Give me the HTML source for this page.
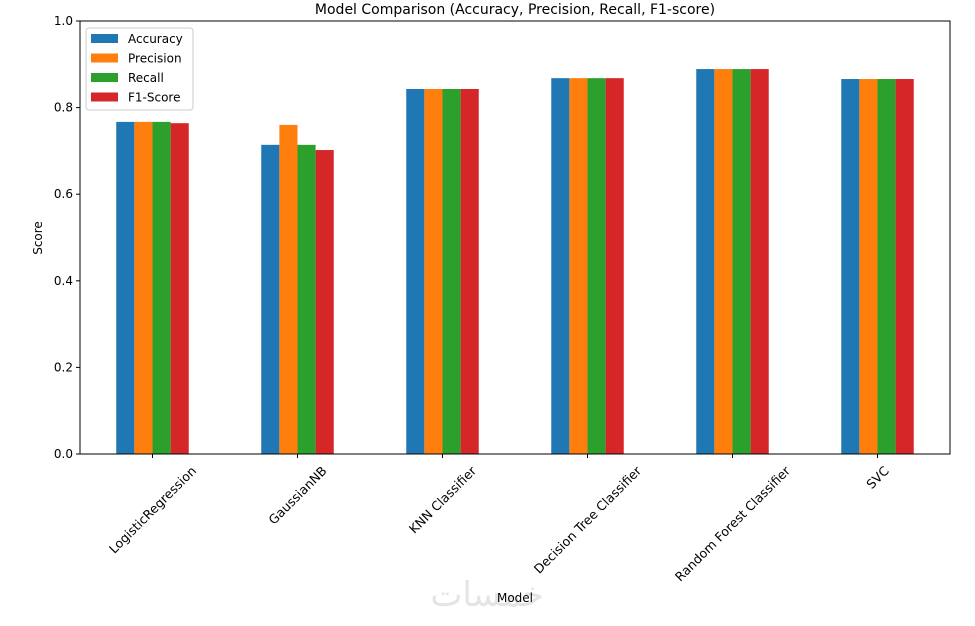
<!DOCTYPE html>
<html><head><meta charset="utf-8"><style>
body{margin:0;background:#fff}
svg{font-family:"DejaVu Sans","Liberation Sans",sans-serif}
</style></head><body>
<svg id="c" width="975" height="621">
<text x="515" y="14" text-anchor="middle" font-size="14">Model Comparison (Accuracy, Precision, Recall, F1-score)</text>
<text x="487" y="606" text-anchor="middle" font-size="34" fill="#e4e4e4" font-family="'DejaVu Sans',sans-serif">خمسات</text>
<text x="515" y="602" text-anchor="middle" font-size="12">Model</text>
<text x="0" y="0" text-anchor="middle" font-size="12" transform="translate(42,238) rotate(-90)">Score</text>
<g id="bars"></g><g id="axes"></g>
</svg>
<script>
const categories=["LogisticRegression","GaussianNB","KNN Classifier","Decision Tree Classifier","Random Forest Classifier","SVC"];
const seriesNames=["Accuracy","Precision","Recall","F1-Score"];
const accuracy=[0.767,0.714,0.843,0.868,0.889,0.866];
const precision=[0.767,0.760,0.843,0.868,0.889,0.866];
const recall=[0.767,0.714,0.843,0.868,0.889,0.866];
const f1=[0.764,0.702,0.843,0.868,0.889,0.866];
const yTicks=[0,0.2,0.4,0.6,0.8,1.0];
const yTickLabels=["0.0","0.2","0.4","0.6","0.8","1.0"];
const colors=["#1f77b4","#ff7f0e","#2ca02c","#d62728"];
const series=[accuracy,precision,recall,f1];
const L=80,R=950,T=21,B=454;
const ns="http://www.w3.org/2000/svg";
const step=(R-L)/categories.length;
const xc=i=>L+step*(i+0.5);
const y=v=>B-(B-T)*v;
const bw=step*0.5/4;
function mk(t,a,p){const e=document.createElementNS(ns,t);for(const k in a)e.setAttribute(k,a[k]);(p||document.getElementById('c')).appendChild(e);return e;}
const bg=document.getElementById('bars'),ax=document.getElementById('axes');
series.forEach((s,j)=>s.forEach((v,i)=>{
 const r=mk('rect',{x:xc(i)-2*bw+j*bw,y:y(v),width:bw,height:B-y(v),fill:colors[j]},bg);
 
 
}));
const fr=mk('rect',{x:L,y:T,width:R-L,height:B-T,fill:'none',stroke:'#000','stroke-width':1},ax);


yTicks.forEach((v,i)=>{
 mk('line',{x1:L-4,x2:L,y1:y(v),y2:y(v),stroke:'#000'},ax);
 const t=mk('text',{x:L-7,y:y(v)+4,'text-anchor':'end','font-size':12},ax);t.textContent=yTickLabels[i];
 
 
});
categories.forEach((c,i)=>{
 mk('line',{x1:xc(i),x2:xc(i),y1:B,y2:B+4,stroke:'#000'},ax);
 const t=mk('text',{x:0,y:0,'text-anchor':'middle','font-size':12.6},ax);t.textContent=c;
 const w=t.getComputedTextLength();
 const half=(w+12.6)*0.7071/2;
 const cy=B+10+half;
 t.setAttribute('transform',`translate(${xc(i)} ${cy}) rotate(-45) translate(0 4.5)`);
 
 
});
const lg=mk('g',{},ax);


mk('rect',{x:86,y:28,width:107,height:82,rx:3,fill:'#fff','fill-opacity':0.8,stroke:'#ccc'},lg);
seriesNames.forEach((n,j)=>{
 mk('rect',{x:91,y:34+j*19.5,width:27,height:9,fill:colors[j]},lg);
 const t=mk('text',{x:128,y:43+j*19.5,'font-size':12},lg);t.textContent=n;
 
 
});
</script>
</body></html>
